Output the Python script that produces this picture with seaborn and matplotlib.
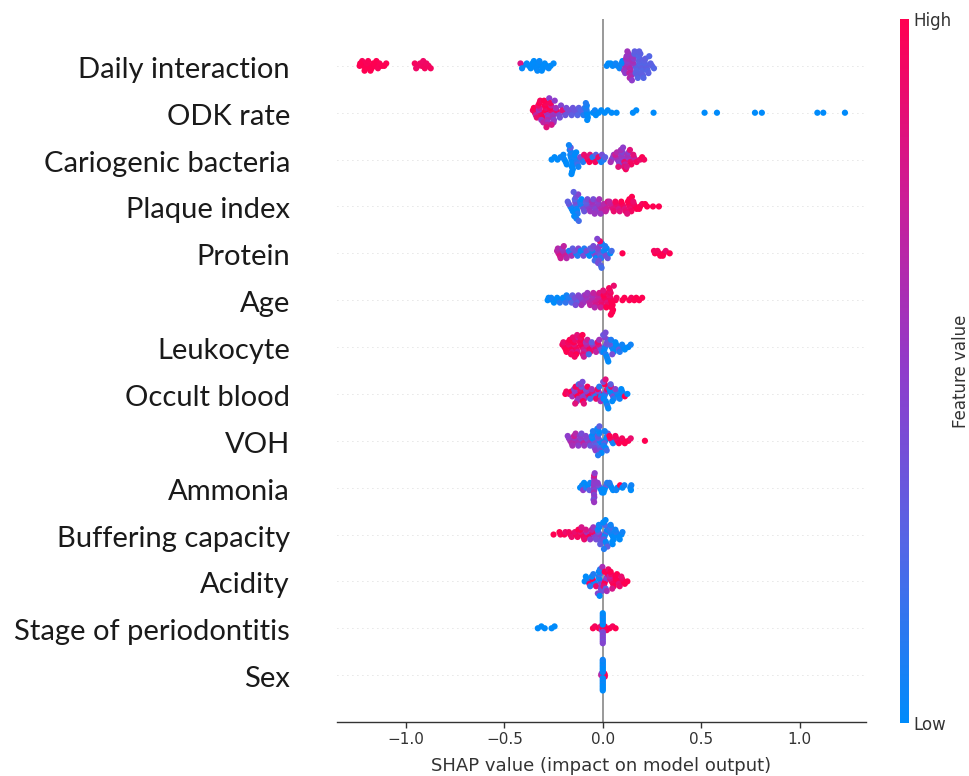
import numpy as np
import pandas as pd
import matplotlib
matplotlib.use("Agg")
import matplotlib.pyplot as plt
import matplotlib.transforms as mtransforms
from matplotlib.colors import LinearSegmentedColormap, Normalize
from matplotlib.cm import ScalarMappable
import seaborn as sns

# ---------------- data ----------------
features = ["Daily interaction", "ODK rate", "Cariogenic bacteria", "Plaque index",
            "Protein", "Age", "Leukocyte", "Occult blood", "VOH", "Ammonia",
            "Buffering capacity", "Acidity", "Stage of periodontitis", "Sex"]

daily_shap = [-1.216, -1.228, -1.204, -1.222, -1.21,
              -1.235, -1.232,
              -1.186, -1.198, -1.174, -1.192, -1.18,
              -1.158, -1.166, -1.142, -1.15,
              -1.122, -1.134, -1.11, -1.1,
              -0.94, -0.955, -0.948, -0.92, -0.928, -0.904, -0.912, -0.885, -0.896, -0.874,
              -0.405, -0.418, -0.41, -0.375, -0.386, -0.366, -0.344, -0.357, -0.338, -0.35,
              -0.332, -0.316, -0.328, -0.304, -0.322, -0.31, -0.285, -0.295, -0.275, -0.265, -0.25,
              0.02, 0.028, 0.05, 0.04, 0.075, 0.065, 0.085,
              0.112, 0.095, 0.116, 0.1, 0.108, 0.118, 0.114,
              0.133, 0.127, 0.139, 0.123, 0.142, 0.129, 0.135, 0.121, 0.145, 0.131, 0.137, 0.125, 0.148,
              0.165, 0.155, 0.17, 0.151, 0.172, 0.157, 0.167, 0.153, 0.175, 0.16, 0.178, 0.162,
              0.193, 0.187, 0.198, 0.183, 0.201, 0.189, 0.195, 0.181, 0.204, 0.191, 0.207, 0.185,
              0.22, 0.214, 0.224, 0.211, 0.228, 0.217, 0.232, 0.236,
              0.25, 0.243, 0.26]
daily_feat = [1.0, 0.98, 1.0, 0.97, 1.0,
              0.99, 1.0,
              1.0, 0.97, 1.0, 0.98, 1.0,
              0.99, 1.0, 0.97, 1.0,
              1.0, 0.98, 1.0, 0.99,
              0.93, 0.95, 0.92, 0.94, 0.93, 0.95, 0.92, 0.94, 0.93, 0.95,
              0.0, 0.82, 0.02, 0.0, 0.01, 0.0, 0.02, 0.0, 0.01, 0.0,
              0.02, 0.0, 0.01, 0.0, 0.02, 0.0, 0.01, 0.0, 0.02, 0.0, 0.01,
              0.02, 0.0, 0.03, 0.0, 0.02, 0.05, 0.04,
              0.55, 0.05, 0.6, 0.0, 0.55, 0.6, 0.5,
              0.6, 0.55, 0.65, 0.5, 0.62, 0.58, 0.7, 0.55, 0.6, 0.52, 0.65, 0.57, 0.5,
              0.28, 0.55, 0.3, 0.6, 0.25, 0.5, 0.28, 0.55, 0.3, 0.28, 0.25, 0.3,
              0.28, 0.25, 0.3, 0.28, 0.25, 0.3, 0.28, 0.25, 0.3, 0.28, 0.25, 0.3,
              0.28, 0.25, 0.3, 0.28, 0.25, 0.3, 0.28, 0.25,
              0.3, 0.28, 0.25]

odk_shap = [-0.345, -0.355, -0.34, -0.35, -0.335,
            -0.315, -0.325, -0.31, -0.32, -0.305, -0.328, -0.312, -0.322, -0.302, -0.318,
            -0.285, -0.292, -0.28, -0.288, -0.276, -0.295, -0.282, -0.29, -0.278, -0.298, -0.284, -0.272, -0.286,
            -0.258, -0.264, -0.252, -0.268, -0.255, -0.262, -0.248, -0.266, -0.25, -0.244, -0.26,
            -0.228, -0.235, -0.222, -0.238, -0.218, -0.212,
            -0.195, -0.205, -0.19, -0.185,
            -0.165, -0.172, -0.158, -0.152,
            -0.135, -0.142, -0.128, -0.122,
            -0.105, -0.112, -0.098, -0.092,
            -0.08, -0.082, -0.078, -0.084, -0.076, -0.081, -0.079, -0.086,
            -0.05, -0.04, -0.035,
            -0.02, -0.008,
            0.01, 0.025,
            0.045, 0.07,
            0.153, 0.17, 0.258, 0.517, 0.58, 0.773, 0.808, 1.09, 1.12, 1.23]
odk_feat = [1.0, 0.95, 0.7, 1.0, 0.9,
            1.0, 0.6, 0.95, 0.75, 1.0, 0.9, 0.55, 1.0, 0.7, 0.95,
            0.55, 1.0, 0.6, 0.9, 0.5, 1.0, 0.65, 0.95, 0.55, 1.0, 0.7, 0.5, 0.85,
            0.5, 0.9, 0.55, 1.0, 0.6, 0.75, 0.45, 0.95, 0.55, 0.5, 0.8,
            0.5, 0.9, 0.45, 0.6, 0.4, 0.45,
            0.4, 0.85, 0.35, 0.4,
            0.35, 0.4, 0.3, 0.35,
            0.3, 0.35, 0.25, 0.3,
            0.2, 0.25, 0.1, 0.15,
            0.0, 0.05, 0.0, 0.1, 0.0, 0.05, 0.0, 0.1,
            0.0, 0.05, 0.0,
            0.0, 0.0,
            0.0, 0.0,
            0.0, 0.0,
            0.0, 0.0, 0.0, 0.0, 0.0, 0.0, 0.0, 0.0, 0.0, 0.0]

cario_shap = [-0.26, -0.245,
              -0.23, -0.215,
              -0.195, -0.205, -0.188, -0.2, -0.183,
              -0.158, -0.162, -0.155, -0.165, -0.153, -0.16, -0.157, -0.168, -0.152, -0.163, -0.156, -0.172, -0.159,
              -0.138, -0.145, -0.132, -0.142, -0.128, -0.135, -0.124,
              -0.108, -0.115, -0.1, -0.095,
              -0.075, -0.082, -0.068, -0.065,
              -0.045, -0.052, -0.038, -0.035,
              -0.015, -0.022, -0.008, -0.004,
              0.005, 0.012,
              0.045, 0.052, 0.04, 0.056,
              0.075, 0.068, 0.082, 0.064, 0.086, 0.072, 0.079,
              0.105, 0.098, 0.11, 0.094, 0.114, 0.101, 0.108, 0.092, 0.117, 0.103,
              0.135, 0.128, 0.14, 0.124, 0.145, 0.132, 0.122, 0.138,
              0.165, 0.158, 0.172, 0.155,
              0.19, 0.2,
              0.21]
cario_feat = [0.0, 0.0,
              0.0, 0.02,
              0.0, 0.05, 0.0, 0.02, 0.0,
              0.0, 0.05, 0.0, 0.02, 0.0, 0.1, 0.0, 0.05, 0.0, 0.3, 0.0, 0.05, 0.0,
              0.0, 0.05, 0.1, 0.0, 0.2, 0.0, 0.05,
              0.15, 0.4, 0.1, 0.9,
              1.0, 0.9, 1.0, 0.85,
              1.0, 0.1, 0.95, 0.3,
              0.2, 0.9, 0.05, 0.4,
              0.1, 0.3,
              0.5, 0.45, 0.6, 0.55,
              0.55, 0.6, 0.5, 0.75, 0.45, 0.65, 0.85,
              0.6, 0.5, 0.9, 0.55, 0.7, 0.45, 0.85, 0.6, 0.95, 0.5,
              0.7, 0.55, 0.9, 0.6, 0.95, 0.5, 0.8, 0.85,
              0.9, 0.7, 0.95, 0.85,
              0.9, 1.0,
              0.95]

plaque_shap = [-0.165, -0.172, -0.158, -0.178, -0.152,
               -0.135, -0.138, -0.132, -0.14, -0.13, -0.142, -0.128, -0.136, -0.145, -0.125, -0.134, -0.148, -0.122,
               -0.105, -0.112, -0.098, -0.115, -0.094, -0.108,
               -0.075, -0.082, -0.068, -0.086, -0.064, -0.078,
               -0.045, -0.052, -0.038, -0.056, -0.034, -0.048, -0.041,
               -0.015, -0.022, -0.008, -0.026, -0.004, -0.018, -0.011,
               0.012, 0.005, 0.02, 0.025, 0.015,
               0.045, 0.038, 0.052, 0.034, 0.056,
               0.075, 0.068, 0.082, 0.064, 0.086,
               0.105, 0.098, 0.112, 0.094, 0.116,
               0.138, 0.132, 0.142, 0.128, 0.145, 0.135, 0.124, 0.148,
               0.165, 0.158, 0.172, 0.155,
               0.19, 0.2, 0.185,
               0.225, 0.215,
               0.255,
               0.285]
plaque_feat = [0.1, 0.35, 0.05, 0.3, 0.0,
               0.0, 0.3, 0.05, 0.4, 0.0, 0.25, 0.1, 0.35, 0.0, 0.45, 0.05, 0.3, 0.2,
               0.3, 0.05, 0.4, 0.1, 0.35, 0.0,
               0.45, 0.35, 0.5, 0.3, 0.55, 0.4,
               0.5, 0.55, 0.45, 0.6, 0.5, 0.4, 0.55,
               0.6, 0.55, 0.65, 0.5, 0.7, 0.6, 0.55,
               0.7, 0.65, 0.75, 0.8, 0.7,
               0.8, 0.75, 0.85, 0.7, 0.9,
               0.85, 0.9, 0.8, 0.95, 0.85,
               0.9, 0.95, 0.85, 1.0, 0.9,
               1.0, 0.95, 0.9, 1.0, 0.95, 1.0, 0.85, 1.0,
               1.0, 0.95, 1.0, 0.9,
               1.0, 0.95, 1.0,
               1.0, 1.0,
               1.0,
               1.0]

protein_shap = [-0.225, -0.232, -0.218, -0.228, -0.214,
                -0.195, -0.202, -0.188, -0.206, -0.184, -0.198,
                -0.165, -0.172, -0.158, -0.153,
                -0.135, -0.142, -0.128, -0.124,
                -0.105, -0.112, -0.098, -0.094,
                -0.075, -0.082, -0.068, -0.064,
                -0.045, -0.052, -0.038, -0.056, -0.034, -0.048, -0.041,
                -0.018, -0.022, -0.012, -0.026, -0.008, -0.016, -0.02, -0.004, -0.024, -0.014, -0.01, -0.028, -0.006,
                0.01, 0.005, 0.015, 0.02, 0.025, 0.012,
                0.038, 0.045,
                0.1,
                0.265, 0.26,
                0.285, 0.278, 0.292,
                0.31, 0.32, 0.305,
                0.34]
protein_feat = [0.75, 0.7, 0.8, 0.65, 0.75,
                0.7, 0.6, 0.75, 0.55, 0.65, 0.7,
                0.5, 0.1, 0.6, 0.3,
                0.0, 0.35, 0.1, 0.45,
                0.3, 0.0, 0.4, 0.1,
                0.05, 0.4, 0.0, 0.3,
                0.35, 0.05, 0.45, 0.3, 0.0, 0.4, 0.2,
                0.4, 0.35, 0.3, 0.45, 0.1, 0.5, 0.35, 0.05, 0.4, 0.9, 0.3, 0.45, 0.2,
                0.3, 0.05, 0.4, 0.0, 0.35, 0.1,
                0.0, 0.2,
                1.0,
                1.0, 0.95,
                1.0, 0.95, 1.0,
                1.0, 0.9, 1.0,
                1.0]

age_shap = [-0.28, -0.275,
            -0.255, -0.262, -0.248,
            -0.225, -0.232, -0.218,
            -0.195, -0.202, -0.188, -0.184,
            -0.165, -0.172, -0.158, -0.154,
            -0.135, -0.142, -0.128, -0.124, -0.138,
            -0.105, -0.112, -0.098, -0.094, -0.108,
            -0.075, -0.082, -0.068, -0.086, -0.064, -0.078,
            -0.045, -0.052, -0.038, -0.056, -0.034, -0.048, -0.041,
            -0.015, -0.022, -0.008, -0.026, -0.004, -0.018, -0.011,
            0.015, 0.008, 0.022, 0.004, 0.026, 0.012, 0.018, 0.002,
            0.042, 0.038, 0.046, 0.034, 0.05, 0.04, 0.044, 0.036, 0.052, 0.032, 0.048, 0.056, 0.041,
            0.065, 0.07,
            0.1, 0.11,
            0.135, 0.145,
            0.16, 0.17,
            0.185, 0.2]
age_feat = [0.0, 0.0,
            0.0, 0.05, 0.0,
            0.05, 0.0, 0.1,
            0.1, 0.0, 0.15, 0.05,
            0.2, 0.1, 0.25, 0.3,
            0.35, 0.4, 0.3, 0.45, 0.4,
            0.5, 0.45, 0.55, 0.5, 0.6,
            0.6, 0.55, 0.65, 0.6, 0.7, 0.55,
            0.7, 0.65, 0.75, 0.6, 0.8, 0.7, 0.65,
            0.8, 0.75, 0.85, 0.7, 0.9, 0.8, 0.75,
            0.9, 0.95, 0.85, 1.0, 0.9, 0.95, 1.0, 0.85,
            1.0, 0.95, 1.0, 0.9, 1.0, 0.95, 1.0, 0.9, 1.0, 0.95, 1.0, 0.9, 1.0,
            1.0, 0.95,
            1.0, 1.0,
            1.0, 0.95,
            1.0, 1.0,
            1.0, 1.0]

leuko_shap = [-0.195, -0.205, -0.188, -0.2, -0.184,
              -0.165, -0.172, -0.158, -0.176, -0.154, -0.168, -0.161, -0.152,
              -0.138, -0.145, -0.132, -0.148, -0.128, -0.141, -0.135, -0.124, -0.143, -0.13,
              -0.105, -0.112, -0.098, -0.116, -0.094, -0.108, -0.101, -0.114, -0.096, -0.103,
              -0.075, -0.082, -0.068, -0.086, -0.064, -0.078, -0.071,
              -0.045, -0.052, -0.038, -0.056, -0.034,
              -0.015, -0.022, -0.008, -0.026, -0.004, -0.018,
              0.012, 0.018, 0.008, 0.022, 0.004, 0.026, 0.015, 0.01, 0.02, 0.002, 0.024, 0.014, 0.028,
              0.045, 0.038, 0.052, 0.034, 0.056, 0.042, 0.048,
              0.075, 0.068, 0.082, 0.064, 0.086,
              0.105, 0.098, 0.112,
              0.13, 0.142]
leuko_feat = [1.0, 0.95, 1.0, 0.9, 1.0,
              1.0, 0.9, 1.0, 0.95, 0.85, 1.0, 0.95, 0.9,
              1.0, 0.85, 0.95, 1.0, 0.8, 0.9, 1.0, 0.75, 0.95, 0.85,
              0.9, 1.0, 0.8, 0.95, 0.7, 1.0, 0.85, 0.9, 0.75, 1.0,
              0.85, 0.7, 0.95, 0.6, 0.9, 0.75, 0.2,
              0.8, 0.55, 0.9, 0.3, 0.7,
              0.5, 0.8, 0.35, 0.9, 0.2, 0.6,
              0.0, 0.35, 0.05, 0.4, 0.0, 0.3, 0.1, 0.45, 0.0, 0.35, 0.05, 0.4, 0.0,
              0.0, 0.3, 0.05, 0.35, 0.0, 0.1, 0.4,
              0.05, 0.0, 0.3, 0.0, 0.1,
              0.0, 0.05, 0.0,
              0.0, 0.05]

occult_shap = [-0.19, -0.185,
               -0.17, -0.16, -0.155,
               -0.135, -0.142, -0.128, -0.146, -0.124, -0.138, -0.131, -0.122, -0.14,
               -0.105, -0.112, -0.098, -0.116, -0.094, -0.108, -0.101, -0.114, -0.096, -0.103,
               -0.075, -0.082, -0.068, -0.086, -0.064, -0.078,
               -0.045, -0.052, -0.038, -0.056, -0.034,
               -0.015, -0.022, -0.008, -0.026, -0.004, -0.018, -0.011,
               0.012, 0.018, 0.008, 0.022, 0.004, 0.026, 0.015, 0.01, 0.02, 0.002, 0.024, 0.014, 0.028,
               0.045, 0.038, 0.052, 0.034, 0.056, 0.042, 0.048, 0.04,
               0.075, 0.068, 0.082, 0.064, 0.086,
               0.105, 0.098, 0.112, 0.094,
               0.125]
occult_feat = [1.0, 0.95,
               0.9, 1.0, 0.6,
               0.9, 0.5, 1.0, 0.45, 0.6, 0.95, 0.55, 0.2, 0.85,
               0.6, 1.0, 0.45, 0.9, 0.55, 0.3, 1.0, 0.5, 0.85, 0.4,
               0.9, 0.5, 1.0, 0.4, 0.2, 0.95,
               0.5, 0.85, 0.1, 0.6, 0.9,
               1.0, 0.4, 0.05, 0.9, 0.5, 0.1, 0.6,
               0.0, 0.5, 0.1, 0.9, 0.0, 0.45, 0.05, 1.0, 0.0, 0.4, 0.1, 0.85, 0.0,
               0.05, 0.0, 0.4, 0.0, 0.1, 0.9, 0.0, 0.3,
               0.0, 0.1, 0.0, 0.45, 0.05,
               0.0, 0.05, 1.0, 0.0,
               0.0]

voh_shap = [-0.165, -0.172, -0.158, -0.178, -0.154,
            -0.135, -0.142, -0.128, -0.146, -0.124, -0.138,
            -0.105, -0.112, -0.098, -0.116, -0.094, -0.108,
            -0.075, -0.082, -0.068, -0.086, -0.064,
            -0.045, -0.052, -0.038, -0.056, -0.034, -0.048, -0.041, -0.05, -0.036,
            -0.015, -0.022, -0.008, -0.026, -0.004, -0.018, -0.011, -0.02, -0.013, -0.028, -0.006, -0.017, -0.024,
            0.012, 0.018, 0.008, 0.022, 0.004, 0.026, 0.015, 0.01, 0.02,
            0.045, 0.038, 0.052, 0.034,
            0.075, 0.068, 0.082, 0.064,
            0.105, 0.098, 0.112,
            0.13, 0.142,
            0.214]
voh_feat = [0.6, 0.55, 0.65, 0.5, 0.6,
            0.7, 0.55, 0.6, 0.75, 0.5, 0.65,
            0.6, 0.45, 0.7, 0.5, 0.55, 0.4,
            0.5, 0.4, 0.55, 0.45, 0.35,
            0.3, 0.0, 0.35, 0.05, 0.25, 0.0, 0.4, 0.1, 0.5,
            0.0, 0.3, 0.05, 0.35, 0.0, 0.1, 0.25, 0.0, 0.4, 0.05, 0.0, 0.3, 0.1,
            0.0, 0.05, 0.3, 0.0, 0.1, 0.35, 0.0, 0.05, 0.2,
            0.0, 0.9, 0.05, 1.0,
            1.0, 0.9, 1.0, 0.95,
            1.0, 0.95, 1.0,
            1.0, 0.9,
            1.0]

ammonia_shap = [-0.115, -0.105, -0.1, -0.095,
                -0.085, -0.075, -0.068, -0.064,
                -0.044, -0.045, -0.043, -0.044, -0.046, -0.042, -0.044, -0.045, -0.043, -0.044, -0.047, -0.041, -0.044,
                -0.015, -0.022, -0.008, -0.026, -0.004,
                0.012, 0.018, 0.008, 0.022, 0.004,
                0.045, 0.038, 0.052, 0.034,
                0.075, 0.088, 0.068,
                0.1, 0.11,
                0.14, 0.145, 0.143]
ammonia_feat = [0.0, 0.05, 0.5, 0.0,
                0.1, 0.0, 0.3, 0.05,
                0.5, 0.55, 0.45, 0.5, 0.6, 0.5, 0.45, 0.55, 0.5, 0.8, 0.4, 0.5, 0.55,
                0.1, 0.4, 0.0, 0.5, 0.05,
                0.0, 0.3, 0.0, 0.1, 0.0,
                0.05, 0.0, 0.0, 0.1,
                0.0, 1.0, 0.05,
                0.0, 0.05,
                0.0, 0.05, 0.0]

buffer_shap = [-0.25,
               -0.215, -0.22,
               -0.195, -0.19,
               -0.165, -0.172, -0.158,
               -0.135, -0.142, -0.128, -0.124,
               -0.105, -0.112, -0.098, -0.116, -0.094, -0.108,
               -0.075, -0.082, -0.068, -0.086, -0.064,
               -0.045, -0.052, -0.038, -0.056, -0.034, -0.048,
               -0.015, -0.022, -0.008, -0.026, -0.004, -0.018, -0.011, -0.02, -0.013,
               0.012, 0.018, 0.008, 0.022, 0.004, 0.026, 0.015, 0.01, 0.02, 0.002, 0.024, 0.014, 0.006,
               0.045, 0.038, 0.052, 0.034, 0.056, 0.042, 0.048, 0.04, 0.05,
               0.075, 0.068, 0.082, 0.064, 0.086,
               0.095, 0.1]
buffer_feat = [1.0,
               0.95, 1.0,
               1.0, 0.9,
               1.0, 0.95, 0.9,
               1.0, 0.9, 0.95, 1.0,
               1.0, 0.85, 0.95, 1.0, 0.9, 0.8,
               0.9, 0.6, 1.0, 0.8, 0.5,
               0.5, 0.9, 0.45, 0.7, 0.4, 0.55,
               0.45, 0.3, 0.5, 0.1, 0.4, 0.0, 0.35, 0.05, 0.3,
               0.0, 0.3, 0.05, 0.0, 0.35, 0.1, 0.0, 0.25, 0.05, 0.0, 0.3, 0.0, 0.1,
               0.0, 0.05, 0.0, 0.1, 0.0, 0.2, 0.0, 0.05, 0.0,
               0.0, 0.1, 0.0, 0.05, 0.0,
               0.0, 0.05]

acidity_shap = [-0.092,
                -0.075, -0.082, -0.068, -0.086, -0.064,
                -0.045, -0.052, -0.038, -0.056, -0.034, -0.048,
                -0.012, -0.018, -0.008, -0.022, -0.004, -0.015, -0.01, -0.02, -0.006, -0.014, -0.025, -0.002, -0.016,
                0.012, 0.018, 0.008, 0.022, 0.004, 0.026, 0.015, 0.01, 0.02, 0.028,
                0.045, 0.038, 0.052, 0.034, 0.056, 0.042, 0.048, 0.04,
                0.075, 0.068, 0.082, 0.064, 0.086, 0.072,
                0.105, 0.098, 0.112, 0.094,
                0.125]
acidity_feat = [0.0,
                0.0, 0.05, 0.95, 0.0, 0.1,
                0.0, 1.0, 0.05, 0.0, 0.9, 0.1,
                0.3, 0.0, 0.45, 0.05, 0.4, 0.2, 0.5, 0.0, 0.35, 0.1, 0.45, 0.6, 0.0,
                0.9, 0.5, 1.0, 0.45, 0.85, 0.95, 0.3, 1.0, 0.6, 0.9,
                1.0, 0.85, 0.95, 0.7, 1.0, 0.9, 0.8, 1.0,
                0.95, 1.0, 0.85, 1.0, 0.9, 1.0,
                1.0, 0.95, 1.0, 0.9,
                1.0]

stage_shap = [-0.33, -0.312, -0.295, -0.26, -0.245,
              -0.05, -0.04, -0.02, -0.01, -0.005,
              0.0, 0.01, 0.02,
              0.0, 0.0, 0.0, 0.0, 0.0, 0.0, 0.0, 0.0, 0.0, 0.0, 0.0, 0.0, 0.0, 0.0,
              0.035, 0.05, 0.065]
stage_feat = [0.0, 0.0, 0.0, 0.0, 0.0,
              1.0, 0.95, 1.0, 0.9, 0.45,
              1.0, 1.0, 0.95,
              0.0, 0.45, 0.0, 0.4, 0.05, 0.45, 0.0, 0.4, 0.0, 0.45, 0.05, 0.4, 0.0, 0.45,
              1.0, 0.95, 1.0]

sex_shap = [-0.008, -0.006,
            0.01, 0.008, 0.01,
            0.0, 0.0, 0.0, 0.0, 0.0, 0.0, 0.0, 0.0, 0.0,
            0.0, 0.0, 0.0, 0.0, 0.0, 0.0, 0.0, 0.0, 0.0]
sex_feat = [0.75, 0.6,
            1.0, 1.0, 0.95,
            0.0, 0.0, 0.05, 0.0, 0.0, 0.05, 0.0, 0.0, 0.0,
            0.05, 0.0, 0.0, 0.05, 0.0, 0.0, 0.0, 0.05, 0.0]

shap_lists = [daily_shap, odk_shap, cario_shap, plaque_shap, protein_shap, age_shap,
              leuko_shap, occult_shap, voh_shap, ammonia_shap, buffer_shap,
              acidity_shap, stage_shap, sex_shap]
feat_lists = [daily_feat, odk_feat, cario_feat, plaque_feat, protein_feat, age_feat,
              leuko_feat, occult_feat, voh_feat, ammonia_feat, buffer_feat,
              acidity_feat, stage_feat, sex_feat]

xticks = [-1.0, -0.5, 0.0, 0.5, 1.0]


# ---------------- beeswarm layout (stacking like shap.summary_plot) ----------------
def beeswarm_offsets(vals, bin_width=0.03, row_height=0.4):
    vals = np.asarray(vals, float)
    quant = np.floor(vals / bin_width + 1e-9)
    inds = np.argsort(quant, kind="stable")
    ys = np.zeros(len(vals))
    layer, last_bin = 0, None
    for ind in inds:
        if quant[ind] != last_bin:
            layer = 0
        ys[ind] = np.ceil(layer / 2) * ((layer % 2) * 2 - 1)
        layer += 1
        last_bin = quant[ind]
    ys *= 0.9 * (row_height / np.max(ys + 1))
    return ys


n = len(features)
frames = []
for i, (name, s, f) in enumerate(zip(features, shap_lists, feat_lists)):
    m = min(len(s), len(f))
    s, f = list(s)[:m], list(f)[:m]
    pos = n - 1 - i
    frames.append(pd.DataFrame({"feature": name, "shap": s, "feat": f,
                                "y": pos + beeswarm_offsets(s)}))
df = pd.concat(frames, ignore_index=True)

# ---------------- styling ----------------
sns.set_style("white")
plt.rcParams["font.family"] = ["DejaVu Sans"]

cmap = LinearSegmentedColormap.from_list(
    "shap_red_blue",
    [(0.0, "#008bfb"), (0.25, "#5466e6"), (0.5, "#8f3ccb"), (0.75, "#cc1c96"), (1.0, "#ff0051")])

fig = plt.figure(figsize=(9.69, 7.76), dpi=100)
ax = fig.add_axes([337 / 969, 1 - 722 / 776, (866 - 337) / 969, (722 - 19) / 776])

ax.axvline(0, color="#999999", lw=1.4, zorder=-1)
for pos in range(n):
    ax.axhline(pos, color="#cccccc", lw=0.6, dashes=(1, 5), zorder=-1)

sns.scatterplot(data=df, x="shap", y="y", hue="feat", palette=cmap, hue_norm=(0, 1),
                s=20, linewidth=0, alpha=1, legend=False, ax=ax, zorder=3)

ax.set_xlim(-1.35, 1.337)
ax.set_ylim(-1, n)
ax.set_yticks([])
ax.set_ylabel("")
ax.set_xticks(xticks)
ax.set_xticklabels([f"{t:.1f}".replace("-", "\u2212") for t in xticks])
ax.tick_params(axis="x", labelsize=11, colors="#333333", length=4, width=1, direction="out",
               bottom=True)
for sp in ["top", "right", "left"]:
    ax.spines[sp].set_visible(False)
ax.spines["bottom"].set_color("#333333")
ax.spines["bottom"].set_linewidth(1.0)
ax.set_xlabel("SHAP value (impact on model output)", fontsize=13, color="#333333", labelpad=7)

# feature labels
trans = mtransforms.blended_transform_factory(ax.transAxes, ax.transData)
trans = mtransforms.offset_copy(trans, fig=fig, x=-47, y=-4, units="dots")
for i, name in enumerate(features):
    ax.text(0, n - 1 - i, name, transform=trans, ha="right", va="center",
            fontsize=21, family=["Lato", "DejaVu Sans"], color="#1a1a1a")

# colour bar
cax = fig.add_axes([900 / 969, 1 - 723 / 776, 9 / 969, (723 - 19) / 776])
cb = fig.colorbar(ScalarMappable(norm=Normalize(0, 1), cmap=cmap), cax=cax, ticks=[0, 1])
cb.set_ticklabels(["Low", "High"])
cb.ax.tick_params(labelsize=12, length=0, colors="#333333")
cb.outline.set_visible(False)
cb.set_label("Feature value", size=12, labelpad=0, color="#333333")

fig.savefig("out.png", dpi=100)
